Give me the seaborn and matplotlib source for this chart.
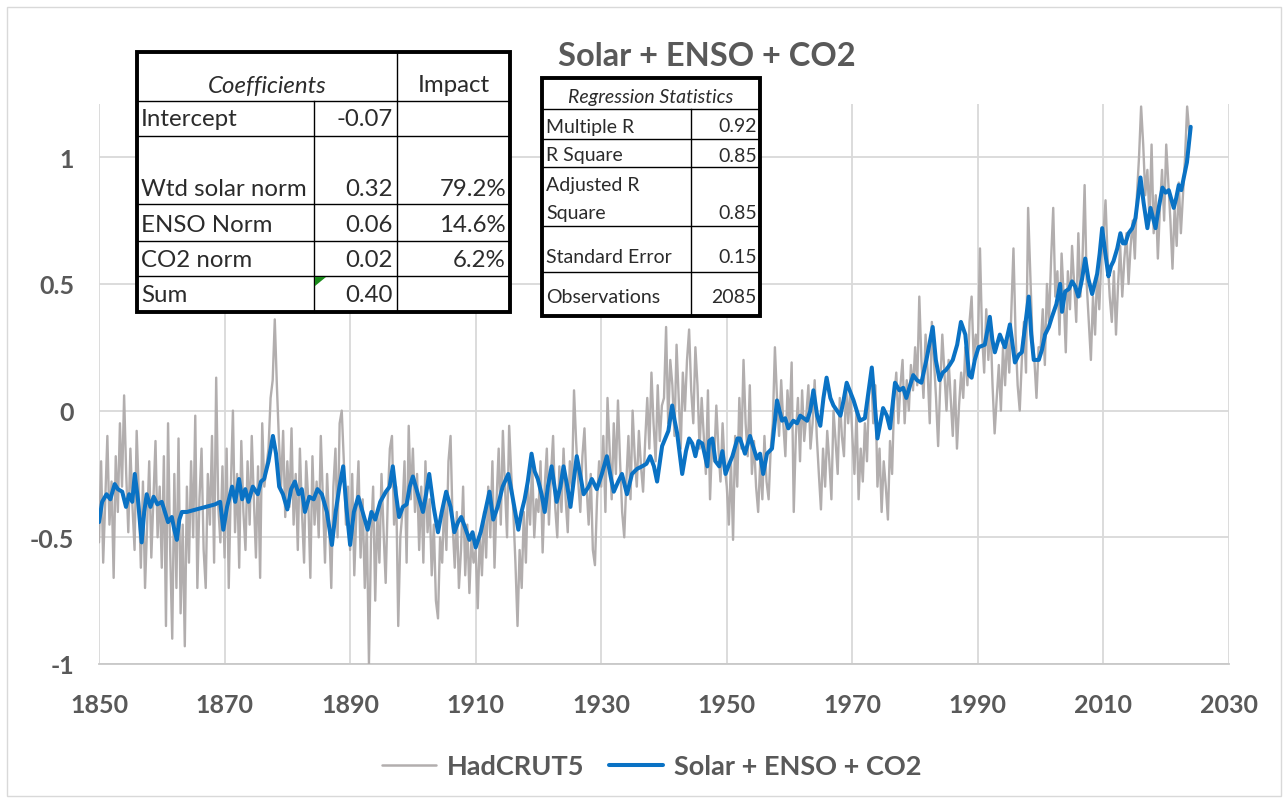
import numpy as np
import pandas as pd
import matplotlib
matplotlib.use("Agg")
import matplotlib.pyplot as plt
import seaborn as sns
from matplotlib.lines import Line2D
from matplotlib.patches import Rectangle, Polygon

# ---------------- data ----------------
gray_start = 1850.0
gray_step = 1.0 / 3.0
hadcrut5 = [
    # 1850s
    -0.52,-0.20,-0.60,-0.35,-0.10,-0.45,-0.28,-0.66,-0.18,-0.40,
    -0.05,-0.30,0.06,-0.25,-0.48,-0.15,-0.38,-0.55,-0.08,-0.32,
    -0.62,-0.28,-0.70,-0.45,-0.20,-0.58,-0.35,-0.12,-0.50,-0.30,
    # 1860s
    -0.62,-0.18,-0.85,-0.05,-0.55,-0.90,-0.25,-0.70,-0.11,-0.80,
    -0.45,-0.93,-0.30,-0.60,-0.20,-0.50,-0.02,-0.70,-0.35,-0.15,
    -0.55,-0.70,-0.25,-0.45,-0.10,-0.60,0.13,-0.38,-0.52,-0.22,
    # 1870s
    -0.58,-0.15,-0.70,-0.30,0.00,-0.48,-0.25,-0.62,-0.12,-0.40,
    -0.55,-0.20,-0.45,-0.10,-0.35,-0.58,-0.22,-0.66,-0.05,-0.30,
    -0.22,-0.15,0.05,0.12,0.36,0.10,-0.12,-0.30,-0.08,-0.42,
    # 1880s
    -0.20,-0.38,-0.07,-0.45,-0.25,-0.55,-0.15,-0.40,-0.60,-0.20,
    -0.35,-0.66,-0.18,-0.45,-0.28,-0.50,-0.10,-0.35,-0.60,-0.25,
    -0.45,-0.70,-0.30,-0.15,-0.50,-0.05,0.00,-0.20,-0.45,-0.30,
    # 1890s
    -0.55,-0.25,-0.65,-0.40,-0.20,-0.58,-0.35,-0.70,-0.45,-1.00,
    -0.50,-0.30,-0.75,-0.40,-0.60,-0.25,-0.48,-0.68,-0.35,-0.15,
    -0.10,-0.45,-0.30,-0.85,-0.50,-0.40,-0.20,-0.60,-0.06,-0.35,
    # 1900s
    -0.15,-0.40,-0.25,-0.55,-0.30,-0.60,-0.20,-0.48,-0.35,-0.65,
    -0.45,-0.75,-0.82,-0.50,-0.60,-0.35,-0.55,-0.20,-0.10,-0.45,
    -0.62,-0.40,-0.70,-0.55,-0.30,-0.65,-0.45,-0.72,-0.50,-0.60,
    # 1910s
    -0.55,-0.78,-0.48,-0.65,-0.40,-0.58,-0.30,-0.50,-0.20,-0.62,
    -0.35,-0.15,-0.45,-0.08,-0.30,-0.50,-0.06,-0.25,-0.40,-0.60,
    -0.85,-0.55,-0.70,-0.40,-0.60,-0.30,-0.45,-0.20,-0.50,-0.35,
    # 1920s
    -0.40,-0.20,-0.56,-0.30,-0.15,-0.45,-0.25,-0.10,-0.38,-0.50,
    -0.22,-0.40,-0.15,-0.35,-0.48,-0.20,-0.30,0.08,-0.12,-0.28,
    -0.40,-0.18,-0.07,-0.30,-0.45,-0.25,-0.55,-0.61,-0.35,-0.20,
    # 1930s
    -0.30,-0.10,-0.40,0.05,-0.15,-0.35,-0.05,-0.25,0.04,-0.20,
    -0.40,-0.50,-0.28,-0.10,-0.35,0.00,-0.18,-0.30,-0.08,-0.22,
    -0.32,-0.12,0.05,-0.15,0.15,-0.05,-0.20,0.10,-0.12,0.02,
    # 1940s
    0.05,0.33,-0.05,0.20,0.10,-0.10,0.26,0.05,-0.15,0.15,
    0.00,0.20,0.32,0.08,-0.05,0.25,0.10,-0.15,0.05,-0.10,
    -0.25,0.08,-0.35,-0.12,-0.20,0.02,-0.15,-0.28,-0.05,-0.22,
    # 1950s
    -0.30,-0.45,-0.20,-0.51,-0.10,-0.30,0.05,-0.15,0.20,-0.05,
    -0.18,0.10,-0.25,-0.12,-0.30,-0.40,-0.20,-0.35,-0.10,-0.28,
    -0.35,-0.15,-0.05,0.25,0.05,-0.10,0.12,-0.05,-0.18,0.08,
    # 1960s
    -0.05,0.19,-0.40,-0.10,0.05,-0.20,0.08,-0.12,-0.02,0.10,
    -0.15,-0.05,0.12,-0.10,-0.25,-0.39,-0.15,-0.30,-0.08,-0.20,
    -0.35,0.00,-0.12,-0.25,0.05,-0.10,-0.18,0.10,-0.05,0.08,
    # 1970s
    -0.10,-0.25,0.00,-0.35,-0.15,-0.28,-0.05,-0.20,0.08,0.15,
    -0.05,0.10,-0.30,-0.15,-0.40,-0.20,-0.30,-0.43,-0.12,-0.25,
    0.05,0.15,-0.05,0.10,0.20,-0.05,0.12,0.00,0.18,0.08,
    # 1980s
    0.25,0.10,0.45,0.20,0.05,0.30,0.15,-0.05,0.35,0.20,
    0.05,-0.14,0.10,0.30,0.15,0.00,0.20,0.05,-0.10,0.12,
    -0.15,0.02,0.15,0.05,0.25,0.10,0.35,0.45,0.20,0.30,
    # 1990s
    0.25,0.64,0.30,0.15,0.40,0.20,0.35,0.10,-0.09,0.05,
    0.18,0.00,0.25,0.10,0.30,0.15,0.40,0.64,0.30,0.10,
    0.00,0.20,0.35,0.15,0.80,0.55,0.30,0.20,0.05,0.25,
    # 2000s
    0.25,0.40,0.18,0.50,0.35,0.60,0.80,0.45,0.55,0.30,
    0.62,0.45,0.23,0.55,0.40,0.65,0.50,0.35,0.70,0.45,
    0.60,0.89,0.50,0.35,0.20,0.45,0.30,0.55,0.40,0.60,
    # 2010s
    0.70,0.83,0.60,0.45,0.35,0.55,0.30,0.50,0.65,0.45,
    0.60,0.70,0.50,0.65,0.75,0.60,0.85,1.00,1.20,1.05,
    0.85,0.95,0.75,1.05,0.70,0.85,0.60,0.80,0.95,0.75,
    # 2020s
    1.05,0.90,0.75,0.56,0.80,0.65,0.90,0.70,0.85,1.00,1.20,1.10,
]

model_years = [
    1850.0,1850.5,1851.2,1851.8,1852.5,1853.0,1853.7,1854.3,1854.8,1855.3,
    1855.7,1856.2,1856.8,1857.2,1857.6,1858.2,1858.7,1859.3,1860.0,1860.5,
    1861.0,1861.6,1862.0,1862.4,1862.8,1863.2,1864.0,1865.5,1867.0,1868.5,
    1869.3,1869.8,1870.4,1871.2,1871.7,1872.3,1872.8,1873.3,1873.8,1874.5,
    1875.3,1875.8,1876.3,1877.0,1877.7,1878.2,1878.7,1879.3,1880.0,1880.6,
    1881.2,1881.8,1882.3,1882.8,1883.5,1884.2,1884.8,1885.5,1886.3,1887.1,
    1887.7,1888.3,1888.9,1889.4,1890.0,1890.6,1891.3,1892.0,1892.8,1893.4,
    1894.0,1894.8,1895.7,1896.3,1896.8,1897.3,1897.8,1898.4,1899.0,1899.5,
    1900.0,1900.8,1901.6,1902.1,1902.6,1903.3,1904.0,1904.6,1905.3,1906.0,
    1906.6,1907.2,1907.7,1908.3,1909.0,1909.5,1910.0,1910.8,1911.5,1912.2,
    1912.8,1913.5,1914.3,1915.2,1915.8,1916.3,1916.8,1917.3,1917.8,1918.3,
    1918.9,1919.4,1919.9,1920.5,1921.0,1921.5,1922.1,1922.9,1923.5,1924.0,
    1924.6,1925.1,1925.6,1926.1,1926.7,1927.2,1928.0,1928.5,1929.3,1930.1,
    1930.9,1931.5,1932.0,1932.7,1933.3,1934.1,1934.9,1935.7,1936.5,1937.2,
    1937.8,1938.4,1938.9,1939.7,1940.7,1941.3,1941.7,1942.1,1942.9,1943.5,
    1944.0,1944.5,1945.0,1945.5,1946.1,1946.9,1947.2,1947.7,1948.2,1948.8,
    1949.3,1949.8,1950.4,1950.9,1951.7,1952.1,1952.9,1953.7,1954.3,1954.8,
    1955.3,1955.8,1956.4,1957.2,1958.0,1958.8,1959.3,1959.8,1960.6,1961.2,
    1961.7,1962.8,1963.3,1963.8,1964.4,1964.9,1965.4,1965.9,1966.5,1967.0,
    1968.1,1968.6,1969.1,1970.2,1971.2,1972.0,1972.6,1973.1,1973.6,1974.0,
    1974.9,1975.5,1976.0,1976.8,1977.5,1978.1,1978.6,1979.2,1979.7,1980.3,
    1981.0,1981.8,1982.8,1983.3,1983.9,1984.4,1984.9,1985.5,1986.0,1986.7,
    1987.3,1988.0,1988.6,1989.0,1989.5,1990.1,1991.1,1991.9,1992.3,1992.7,
    1993.5,1994.3,1995.1,1995.9,1996.5,1997.0,1997.6,1998.1,1998.5,1998.9,
    1999.7,2000.2,2000.7,2001.3,2001.8,2002.5,2003.1,2003.4,2003.9,2004.5,
    2005.0,2005.5,2006.0,2006.6,2007.1,2007.6,2008.2,2008.6,2009.0,2009.4,
    2009.8,2010.3,2010.8,2011.2,2011.6,2012.2,2012.7,2013.1,2013.5,2014.0,
    2014.6,2015.1,2015.5,2015.9,2016.4,2017.0,2017.5,2017.9,2018.3,2018.8,
    2019.4,2019.9,2020.4,2021.2,2021.6,2022.0,2022.4,2022.8,2023.3,2023.6,
    2023.9,
]
model_values = [
    -0.44,-0.36,-0.33,-0.35,-0.29,-0.31,-0.32,-0.38,-0.33,-0.36,
    -0.25,-0.35,-0.52,-0.40,-0.33,-0.38,-0.34,-0.37,-0.36,-0.40,
    -0.44,-0.42,-0.47,-0.51,-0.43,-0.40,-0.40,-0.39,-0.38,-0.37,
    -0.36,-0.47,-0.38,-0.30,-0.36,-0.27,-0.35,-0.31,-0.36,-0.30,
    -0.33,-0.28,-0.27,-0.20,-0.10,-0.17,-0.30,-0.33,-0.39,-0.31,
    -0.28,-0.33,-0.31,-0.40,-0.34,-0.35,-0.31,-0.33,-0.40,-0.53,
    -0.40,-0.30,-0.22,-0.38,-0.53,-0.40,-0.34,-0.40,-0.47,-0.40,
    -0.43,-0.36,-0.32,-0.30,-0.22,-0.33,-0.42,-0.38,-0.37,-0.30,
    -0.26,-0.33,-0.40,-0.33,-0.25,-0.38,-0.48,-0.40,-0.32,-0.38,
    -0.48,-0.44,-0.42,-0.46,-0.51,-0.48,-0.54,-0.48,-0.40,-0.32,
    -0.43,-0.38,-0.30,-0.25,-0.33,-0.40,-0.47,-0.40,-0.35,-0.28,
    -0.17,-0.24,-0.27,-0.33,-0.40,-0.30,-0.22,-0.36,-0.30,-0.22,
    -0.30,-0.38,-0.28,-0.18,-0.26,-0.33,-0.30,-0.27,-0.31,-0.25,
    -0.18,-0.26,-0.32,-0.28,-0.25,-0.33,-0.25,-0.23,-0.22,-0.21,
    -0.18,-0.22,-0.28,-0.14,-0.08,0.02,-0.04,-0.09,-0.25,-0.16,
    -0.11,-0.13,-0.18,-0.12,-0.13,-0.22,-0.12,-0.11,-0.20,-0.22,
    -0.16,-0.25,-0.21,-0.18,-0.11,-0.11,-0.17,-0.10,-0.15,-0.19,
    -0.17,-0.25,-0.17,-0.15,0.04,-0.04,-0.03,-0.07,-0.04,-0.05,
    -0.02,-0.04,0.00,0.08,-0.02,-0.06,0.05,0.13,0.05,0.02,
    -0.02,0.04,0.11,0.04,-0.04,-0.03,0.08,0.17,0.02,-0.11,
    0.01,-0.02,-0.07,0.11,0.08,0.09,0.05,0.10,0.14,0.12,
    0.11,0.20,0.33,0.20,0.12,0.15,0.16,0.18,0.20,0.26,
    0.35,0.30,0.14,0.13,0.20,0.25,0.26,0.37,0.28,0.23,
    0.30,0.25,0.34,0.19,0.22,0.23,0.35,0.45,0.30,0.20,
    0.20,0.24,0.30,0.33,0.37,0.42,0.50,0.39,0.47,0.48,
    0.51,0.49,0.45,0.52,0.60,0.52,0.46,0.50,0.54,0.62,
    0.72,0.62,0.53,0.57,0.59,0.64,0.70,0.66,0.66,0.70,
    0.72,0.76,0.84,0.92,0.82,0.72,0.80,0.76,0.72,0.80,
    0.88,0.86,0.87,0.80,0.84,0.89,0.87,0.92,0.98,1.05,
    1.12,
]

series_names = ["HadCRUT5", "Solar + ENSO + CO2"]
chart_title = "Solar + ENSO + CO2"
x_ticks = [1850, 1870, 1890, 1910, 1930, 1950, 1970, 1990, 2010, 2030]
y_ticks = [-1, -0.5, 0, 0.5, 1]
y_tick_labels = ["-1", "-0.5", "0", "0.5", "1"]

coef_rows = ["Intercept", "Wtd solar norm", "ENSO Norm", "CO2 norm", "Sum"]
coef_vals = ["-0.07", "0.32", "0.06", "0.02", "0.40"]
coef_impact = ["", "79.2%", "14.6%", "6.2%", ""]

stat_rows = ["Multiple R", "R Square", "Adjusted R|Square", "Standard Error", "Observations"]
stat_vals = ["0.92", "0.85", "0.85", "0.15", "2085"]

# ---------------- figure ----------------
W, H = 1287, 803
sns.set_theme(style="white")
plt.rcParams["font.family"] = ["Lato", "DejaVu Sans"]

fig = plt.figure(figsize=(W / 100, H / 100), dpi=100)
fig.patch.set_facecolor("white")

L, R, T, B = 99, 1229, 105, 665
ax = fig.add_axes([L / W, 1 - B / H, (R - L) / W, (B - T) / H])

gray_years = [gray_start + i * gray_step for i in range(len(hadcrut5))]
df_gray = pd.DataFrame({"year": gray_years, "value": hadcrut5})
df_model = pd.DataFrame({"year": model_years, "value": model_values})

sns.lineplot(data=df_gray, x="year", y="value", ax=ax, color="#b2aeae",
             linewidth=1.7, estimator=None, sort=False, zorder=3)
sns.lineplot(data=df_model, x="year", y="value", ax=ax, color="#0a72c4",
             linewidth=2.9, estimator=None, sort=False, zorder=4)

ax.set_xlim(1850, 2030)
ax.set_ylim(-1, 1.21)
ax.set_xticks(x_ticks)
ax.set_yticks(y_ticks)
ax.set_yticklabels(y_tick_labels)
ax.set_xlabel("")
ax.set_ylabel("")
ax.grid(True, color="#d9d9d9", linewidth=1.3)
for s in ["top", "right", "left"]:
    ax.spines[s].set_visible(False)
ax.spines["bottom"].set_color("#c8c8c8")
ax.spines["bottom"].set_linewidth(1.3)
ax.tick_params(axis="x", length=0, pad=21, labelsize=18, labelcolor="#595959")
ax.tick_params(axis="y", length=0, pad=18, labelsize=18, labelcolor="#595959")
for lab in ax.get_xticklabels() + ax.get_yticklabels():
    lab.set_fontweight("bold")

# figure border
fig.add_artist(Rectangle((7 / W, 1 - 797 / H), (1281 - 7) / W, (797 - 8) / H,
                         transform=fig.transFigure, fill=False,
                         edgecolor="#d9d9d9", linewidth=1.0))

# title
fig.text(707 / W, 1 - 57 / H, chart_title, ha="center", va="center",
         fontsize=23.5, fontweight="bold", color="#595959")

# legend
handles = [Line2D([], [], color="#b2aeae", linewidth=1.8),
           Line2D([], [], color="#0a72c4", linewidth=2.9)]
fig.legend(handles, series_names, loc="center", bbox_to_anchor=(652 / W, 1 - 767 / H),
           ncol=2, frameon=False, handlelength=2.0, handletextpad=0.4, columnspacing=0.9,
           prop={"size": 19.5, "weight": "bold"}, labelcolor="#595959")

# ---------------- tables ----------------
def fx(x):
    return x / W

def fy(y):
    return 1 - y / H

def line(x0, y0, x1, y1, lw):
    fig.add_artist(Line2D([fx(x0), fx(x1)], [fy(y0), fy(y1)], transform=fig.transFigure,
                          color="black", linewidth=lw, solid_capstyle="projecting", zorder=10))

def box(x0, y0, x1, y1):
    fig.add_artist(Rectangle((fx(x0), fy(y1)), fx(x1) - fx(x0), fy(y0) - fy(y1),
                             transform=fig.transFigure, facecolor="white",
                             edgecolor="none", zorder=9))
    fig.add_artist(Rectangle((fx(x0), fy(y1)), fx(x1) - fx(x0), fy(y0) - fy(y1),
                             transform=fig.transFigure, fill=False,
                             edgecolor="black", linewidth=2.8, zorder=11))

def txt(x, y, s, ha="left", size=17.3, style="normal"):
    fig.text(fx(x), fy(y), s, ha=ha, va="center", fontsize=size, style=style,
             color="#2b2b2b", zorder=12)

# table 1: coefficients
t1x0, t1x1, t1c1, t1c2 = 137, 510, 314, 397
t1y = [53, 102, 137, 205, 242, 277, 313]
box(t1x0, t1y[0], t1x1, t1y[-1])
for yy in t1y[1:-1]:
    line(t1x0, yy, t1x1, yy, 1.0)
line(t1c1, t1y[1], t1c1, t1y[-1], 1.0)
line(t1c2, t1y[0], t1c2, t1y[-1], 1.0)
txt((t1x0 + t1c2) / 2, 86, "Coefficients", ha="center", style="italic")
txt((t1c2 + t1x1) / 2, 86, "Impact", ha="center")
row_text_y = [120, 189, 225, 261, 296]
for name, val, imp, yy in zip(coef_rows, coef_vals, coef_impact, row_text_y):
    txt(t1x0 + 4, yy, name)
    txt(t1c2 - 4, yy, val, ha="right")
    if imp:
        txt(t1x1 - 4, yy, imp, ha="right")
fig.add_artist(Polygon([(fx(315), fy(278)), (fx(326), fy(278)), (fx(315), fy(287))],
                       closed=True, transform=fig.transFigure, facecolor="#1a8a1a",
                       edgecolor="none", zorder=12))

# table 2: regression statistics
t2x0, t2x1, t2c1 = 542, 760, 691
t2y = [79, 110, 140, 168, 227, 273, 317]
box(t2x0, t2y[0], t2x1, t2y[-1])
for yy in t2y[1:-1]:
    line(t2x0, yy, t2x1, yy, 1.0)
line(t2c1, t2y[1], t2c1, t2y[-1], 1.0)
txt((t2x0 + t2x1) / 2, 98, "Regression Statistics", ha="center", size=14, style="italic")
stat_label_y = [[127], [156], [185, 214], [258], [298]]
stat_val_y = [127, 156, 214, 258, 298]
for name, val, lys, vy in zip(stat_rows, stat_vals, stat_label_y, stat_val_y):
    for part, ly in zip(name.split("|"), lys):
        txt(t2x0 + 4, ly, part, size=14)
    txt(t2x1 - 3, vy, val, ha="right", size=14)

fig.savefig("out.png", dpi=100, facecolor="white")
